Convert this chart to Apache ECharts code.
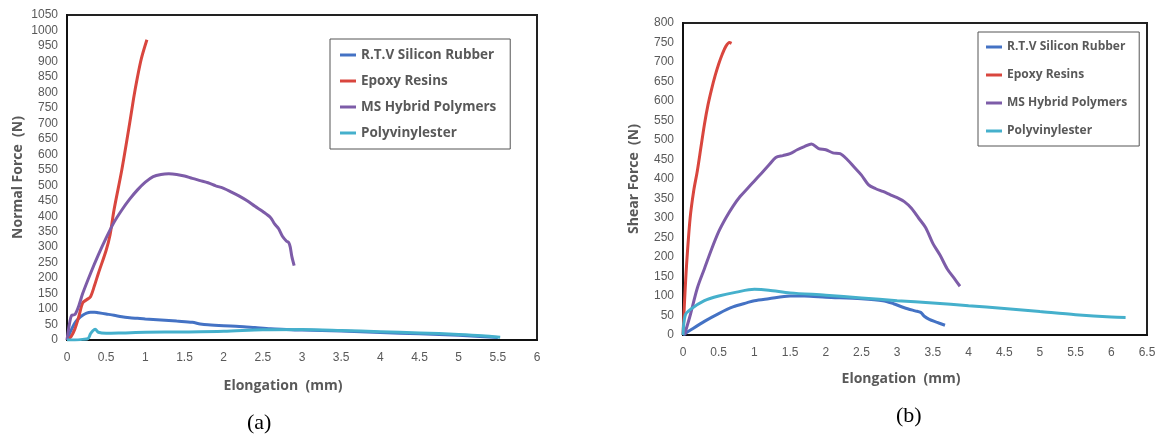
<!DOCTYPE html>
<html>
<head>
<meta charset="utf-8">
<script src="https://cdn.jsdelivr.net/npm/echarts@6/dist/echarts.min.js"></script>
<style>
  html, body { margin: 0; padding: 0; background: #fff; }
  #chart { width: 1160px; height: 435px; }
</style>
</head>
<body>
<div id="chart"></div>
<script>
// series names
var names = ['R.T.V Silicon Rubber', 'Epoxy Resins', 'MS Hybrid Polymers', 'Polyvinylester'];
var colors = ['#4472c4', '#d9463e', '#7d5ca8', '#45b0cc'];

// (a) normal force  [elongation mm, force N]
var rtvNormal = [[0,0],[0.05,30],[0.1,55],[0.15,70],[0.2,80],[0.25,87],[0.3,90],[0.35,90],[0.4,88],[0.5,84],[0.6,80],[0.7,75],[0.8,72],[0.9,70],[1.0,68],[1.2,65],[1.4,61],[1.6,57],[1.7,52],[1.8,49],[2.0,46],[2.2,44],[2.4,40],[2.6,36],[2.8,34],[3.0,32],[3.5,29],[4.0,24],[4.5,20],[5.0,15],[5.5,8]];
var epoxyNormal = [[0,0],[0.05,10],[0.1,35],[0.15,75],[0.2,120],[0.25,130],[0.3,140],[0.35,175],[0.4,215],[0.5,290],[0.55,340],[0.6,420],[0.7,550],[0.8,700],[0.85,780],[0.9,850],[0.95,910],[1.02,970]];
var msNormal = [[0,0],[0.03,50],[0.06,80],[0.1,82],[0.15,110],[0.2,150],[0.3,215],[0.4,275],[0.5,330],[0.6,380],[0.7,420],[0.8,455],[0.9,485],[1.0,510],[1.1,528],[1.2,535],[1.3,537],[1.4,535],[1.5,530],[1.6,522],[1.7,515],[1.8,508],[1.9,498],[2.0,490],[2.1,478],[2.2,465],[2.3,450],[2.4,432],[2.5,415],[2.6,395],[2.65,375],[2.7,360],[2.75,335],[2.8,320],[2.83,315],[2.85,300],[2.87,270],[2.9,240]];
var polyNormal = [[0,0],[0.1,0],[0.2,2],[0.27,5],[0.3,20],[0.33,30],[0.36,35],[0.4,25],[0.5,22],[0.7,23],[1.0,25],[1.5,26],[2.0,28],[2.5,33],[3.0,34],[3.5,31],[4.0,27],[4.5,23],[5.0,18],[5.3,14],[5.53,9]];

// (b) shear force
var rtvShear = [[0,0],[0.1,12],[0.3,35],[0.5,55],[0.7,72],[0.9,83],[1.0,88],[1.2,93],[1.5,100],[1.7,100],[2.0,97],[2.5,93],[2.8,88],[2.95,80],[3.1,70],[3.25,62],[3.33,58],[3.38,48],[3.45,40],[3.55,33],[3.67,25]];
var epoxyShear = [[0,0],[0.02,80],[0.05,180],[0.1,300],[0.15,370],[0.2,420],[0.25,480],[0.3,540],[0.35,590],[0.4,630],[0.45,665],[0.5,695],[0.55,720],[0.6,740],[0.65,750],[0.68,748]];
var msShear = [[0.02,0],[0.1,50],[0.2,120],[0.3,170],[0.4,220],[0.5,265],[0.6,300],[0.7,330],[0.8,355],[0.9,375],[1.0,395],[1.1,415],[1.2,435],[1.3,455],[1.4,460],[1.5,465],[1.6,475],[1.7,483],[1.8,490],[1.9,478],[2.0,475],[2.1,467],[2.2,465],[2.3,450],[2.4,430],[2.5,410],[2.6,385],[2.7,375],[2.8,368],[2.9,360],[3.0,352],[3.1,342],[3.2,325],[3.3,300],[3.4,275],[3.5,235],[3.6,205],[3.7,170],[3.8,145],[3.88,125]];
var polyShear = [[0,0],[0.03,50],[0.1,65],[0.3,88],[0.5,100],[0.75,110],[1.0,117],[1.2,115],[1.5,108],[2.0,102],[2.5,95],[3.0,88],[3.5,82],[4.0,75],[4.5,68],[5.0,60],[5.5,52],[6.0,46],[6.2,45]];

var chart = echarts.init(document.getElementById('chart'));

var labelStyle = { color: '#595959', fontSize: 12, fontFamily: 'Liberation Sans' };
var nameStyle = { color: '#595959', fontSize: 14, fontWeight: 'bold', fontFamily: 'Open Sans' };

function xAxis(idx, max, gap, shift) {
    return {
        type: 'value', gridIndex: idx, min: 0, max: max, interval: 0.5,
        name: 'Elongation  (mm)', nameLocation: 'middle', nameGap: gap,
        nameTextStyle: Object.assign({ padding: [0, shift, 0, 0] }, nameStyle),
        axisLine: { lineStyle: { color: '#111', width: 2 } },
        axisTick: { show: false },
        splitLine: { show: false },
        axisLabel: Object.assign({ margin: 12 }, labelStyle)
    };
}
function yAxis(idx, max, name) {
    return {
        type: 'value', gridIndex: idx, min: 0, max: max, interval: 50,
        name: name, nameLocation: 'middle', nameGap: 42, nameTextStyle: nameStyle,
        axisLine: { show: true, lineStyle: { color: '#111', width: 2 } },
        axisTick: { show: false },
        splitLine: { show: false },
        axisLabel: Object.assign({ margin: 9, formatter: function (v) { return String(v); } }, labelStyle)
    };
}
function line(i, data, xi) {
    return {
        name: names[i], type: 'line', xAxisIndex: xi, yAxisIndex: xi,
        data: data, showSymbol: false, smooth: 0.3,
        lineStyle: { color: colors[i], width: 3 },
        itemStyle: { color: colors[i] }
    };
}
function legend(left, top, fs, gap, pad) {
    return {
        orient: 'vertical', left: left, top: top,
        data: names.map(function (n, i) {
            return { name: n, itemStyle: { color: colors[i] } };
        }),
        icon: 'rect', itemWidth: 16, itemHeight: 3, itemGap: gap,
        borderColor: '#555', borderWidth: 1, padding: pad,
        textStyle: { color: '#595959', fontSize: fs, fontWeight: 'bold', fontFamily: 'Open Sans' }
    };
}

var option = {
    animation: false,
    title: [
        { text: '(a)', left: 242, top: 407, textStyle: { fontFamily: 'Liberation Serif', fontSize: 22, fontWeight: 'normal', color: '#000' } },
        { text: '(b)', left: 891, top: 400, textStyle: { fontFamily: 'Liberation Serif', fontSize: 22, fontWeight: 'normal', color: '#000' } }
    ],
    grid: [
        { left: 67, top: 15, width: 470, height: 325, show: true, borderColor: '#222', borderWidth: 2 },
        { left: 683, top: 23, width: 464, height: 312, show: true, borderColor: '#222', borderWidth: 2 }
    ],
    legend: [
        legend(330, 39, 13.5, 12, [9, 14, 9, 10]),
        legend(978, 32, 12, 16, [9, 12, 9, 8])
    ],
    xAxis: [xAxis(0, 6, 39, 38), xAxis(1, 6.5, 37, 28)],
    yAxis: [yAxis(0, 1050, 'Normal Force  (N)'), yAxis(1, 800, 'Shear Force  (N)')],
    series: [
        line(0, rtvNormal, 0), line(1, epoxyNormal, 0), line(2, msNormal, 0), line(3, polyNormal, 0),
        line(0, rtvShear, 1), line(1, epoxyShear, 1), line(2, msShear, 1), line(3, polyShear, 1)
    ]
};

chart.setOption(option);
</script>
</body>
</html>
